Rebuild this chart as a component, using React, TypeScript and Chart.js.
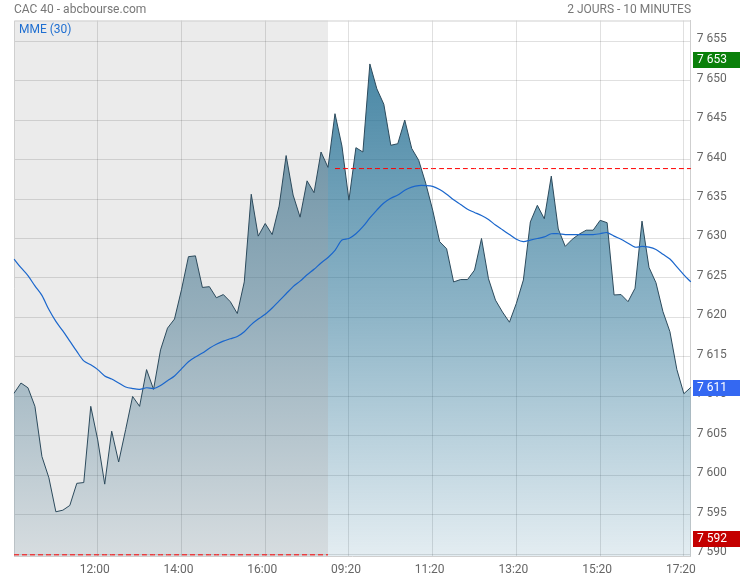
import React, { useEffect, useRef } from 'react';
import { Chart, registerables } from 'chart.js';

Chart.register(...registerables);

// ---- Data -------------------------------------------------------------
const makeTimes = (sh: number, sm: number, eh: number, em: number): string[] => {
  const out: string[] = [];
  for (let m = sh * 60 + sm; m <= eh * 60 + em; m += 10) {
    const h = Math.floor(m / 60);
    const mm = m % 60;
    out.push(`${String(h).padStart(2, '0')}:${String(mm).padStart(2, '0')}`);
  }
  return out;
};

const day1Times = makeTimes(10, 0, 17, 30); // 46 bars
const day2Times = makeTimes(9, 0, 17, 30); // 52 bars
const categories = [...day1Times.map((t) => 'J1 ' + t), ...day2Times.map((t) => 'J2 ' + t)];

const tickLabels = ['J1 12:00', 'J1 14:00', 'J1 16:00', 'J2 09:20', 'J2 11:20', 'J2 13:20', 'J2 15:20', 'J2 17:20'];
const yTicks = [7590, 7595, 7600, 7605, 7610, 7615, 7620, 7625, 7630, 7635, 7640, 7645, 7650, 7655];

const day1Prices = [
  7610.4, 7611.7, 7611.1, 7608.75, 7602.4, 7599.7, 7595.4, 7595.6, 7596.2, 7599.0,
  7599.1, 7608.75, 7604.5, 7598.9, 7605.6, 7601.7, 7605.8, 7610.0, 7608.75, 7613.4,
  7610.9, 7615.9, 7618.65, 7619.8, 7623.5, 7627.7, 7627.8, 7623.8, 7623.9, 7622.5,
  7622.9, 7622.0, 7620.5, 7624.5, 7635.6, 7630.3, 7631.9, 7630.5, 7634.1, 7640.5,
  7635.5, 7632.7, 7637.3, 7635.8, 7640.95, 7639.0,
];

const day2Prices = [
  7645.8, 7641.7, 7634.85, 7641.5, 7640.95, 7652.1, 7648.95, 7647.0, 7641.8, 7642.0,
  7645.0, 7641.4, 7639.9, 7637.0, 7633.6, 7629.6, 7628.7, 7624.5, 7624.8, 7624.8,
  7626.0, 7630.0, 7624.9, 7622.2, 7620.7, 7619.4, 7621.8, 7624.75, 7632.1, 7634.2,
  7632.5, 7637.9, 7631.2, 7629.0, 7629.9, 7630.55, 7631.05, 7631.05, 7632.3, 7632.0,
  7622.85, 7622.9, 7622.0, 7623.7, 7632.2, 7626.35, 7624.4, 7620.75, 7618.2, 7613.4,
  7610.35, 7611.15,
];

const mme30 = [
  7627.4, 7626.3, 7625.3, 7624.0, 7622.8, 7621.0, 7619.5, 7618.3, 7617.0, 7615.7,
  7614.5, 7614.0, 7613.4, 7612.6, 7612.2, 7611.7, 7611.2, 7611.0, 7610.9, 7611.1,
  7611.0, 7611.4, 7612.0, 7612.6, 7613.5, 7614.4, 7615.0, 7615.5, 7616.1, 7616.6,
  7617.0, 7617.3, 7617.6, 7618.2, 7619.1, 7619.8, 7620.4, 7621.2, 7622.1, 7623.0,
  7623.9, 7624.6, 7625.4, 7626.1, 7626.9, 7627.6, 7628.5, 7629.8, 7630.0, 7630.6,
  7631.5, 7632.6, 7633.6, 7634.5, 7635.1, 7635.5, 7636.1, 7636.5, 7636.7, 7636.7,
  7636.6, 7636.2, 7635.6, 7634.9, 7634.3, 7633.7, 7633.3, 7632.9, 7632.4, 7631.7,
  7631.1, 7630.5, 7629.9, 7629.6, 7629.8, 7630.0, 7630.2, 7630.6, 7630.6, 7630.5,
  7630.5, 7630.5, 7630.5, 7630.5, 7630.6, 7630.75, 7630.3, 7629.9, 7629.4, 7628.9,
  7629.0, 7628.9, 7628.6, 7628.0, 7627.4, 7626.4, 7625.4, 7624.5,
];

const day1RefLevel = 7589.95; // previous close, below the visible range (clamped)
const day2RefLevel = 7638.85; // previous close for day 2

const highValue = 7652.6;
const lastValue = 7611.1;
const lowValue = 7592.0;

const Y_MIN = 7589.8;
const Y_MAX = 7657.6;

// ---- Helpers ------------------------------------------------------------
const fmt = (v: number) =>
  String(Math.round(v)).replace(/\B(?=(\d{3})+(?!\d))/g, ' ');

const fillGradient = (rgb: string) => (context: any) => {
  const chart = context.chart;
  const area = chart.chartArea;
  if (!area) return `rgba(${rgb},0.4)`;
  const g = chart.ctx.createLinearGradient(0, area.top, 0, area.bottom);
  g.addColorStop(0, `rgba(${rgb},0.86)`);
  g.addColorStop(0.55, `rgba(${rgb},0.5)`);
  g.addColorStop(1, `rgba(${rgb},0.12)`);
  return g;
};

const FONT = 'Roboto, "Noto Sans", sans-serif';

const decorPlugin = {
  id: 'decor',
  beforeDraw(chart: any) {
    const { ctx, chartArea: a, scales } = chart;
    const xEnd = scales.x.getPixelForValue(day1Prices.length - 1);
    ctx.save();
    ctx.fillStyle = '#ebebeb';
    ctx.fillRect(a.left, a.top, xEnd - a.left, a.bottom - a.top);
    ctx.restore();
  },
  beforeDatasetsDraw(chart: any) {
    const { ctx, chartArea: a } = chart;
    ctx.save();
    ctx.strokeStyle = '#cfcfcf';
    ctx.lineWidth = 1;
    ctx.beginPath();
    ctx.moveTo(a.left + 0.5, a.bottom);
    ctx.lineTo(a.left + 0.5, a.top + 0.5);
    ctx.lineTo(a.right, a.top + 0.5);
    ctx.stroke();
    ctx.restore();
  },
  afterDraw(chart: any) {
    const { ctx, scales } = chart;
    const y = scales.y;
    ctx.save();
    ctx.font = `12px ${FONT}`;
    ctx.textBaseline = 'alphabetic';
    ctx.fillStyle = '#777777';
    ctx.textAlign = 'left';
    ctx.fillText('CAC 40 - abcbourse.com', 14, 12.7);
    ctx.textAlign = 'right';
    ctx.fillText('2 JOURS - 10 MINUTES', 691, 12.7);

    ctx.textAlign = 'left';
    ctx.fillStyle = '#1f6fd1';
    ctx.fillText('MME (30)', 19, 33);

    const boxes = [
      { v: highValue, c: '#0a800a' },
      { v: lastValue, c: '#3468f2' },
      { v: lowValue, c: '#c40000' },
    ];
    boxes.forEach((b) => {
      const py = y.getPixelForValue(b.v);
      ctx.fillStyle = b.c;
      ctx.fillRect(693, Math.round(py - 8), 47, 16);
      ctx.fillStyle = '#ffffff';
      ctx.textBaseline = 'middle';
      ctx.fillText(fmt(b.v), 697, py + 0.5);
    });
    ctx.restore();
  },
};

export default function App() {
  const ref = useRef<HTMLCanvasElement | null>(null);

  useEffect(() => {
    document.body.style.margin = '0';
    const canvas = ref.current;
    if (!canvas) return;

    const n1 = day1Prices.length;
    const total = categories.length;
    const priceDay1 = categories.map((_, i) => (i < n1 ? day1Prices[i] : null));
    const priceDay2 = categories.map((_, i) =>
      i === n1 - 1 ? day1Prices[n1 - 1] : i >= n1 ? day2Prices[i - n1] : null
    );
    const ref1 = categories.map((_, i) => (i < n1 ? day1RefLevel : null));
    const ref2 = categories.map((_, i) => (i >= n1 && i < total ? day2RefLevel : null));

    // plot width chosen so the day boundary falls on a whole pixel (no seam)
    const plotLeft = 14;
    const plotWidth = (314 * (total - 1)) / (n1 - 1);
    const yAxisWidth = 740 - plotLeft - plotWidth;

    const chart = new Chart(canvas, {
      type: 'line',
      data: {
        labels: categories,
        datasets: [
          {
            label: 'MME (30)',
            data: mme30,
            borderColor: '#1a66cc',
            borderWidth: 1.2,
            pointRadius: 0,
            fill: false,
            order: 0,
            tension: 0.3,
          },
          {
            label: 'ref1',
            data: ref1,
            borderColor: '#ff0000',
            borderWidth: 1,
            borderDash: [5, 3],
            pointRadius: 0,
            fill: false,
            order: 1,
          },
          {
            label: 'ref2',
            data: ref2,
            borderColor: '#ff0000',
            borderWidth: 1,
            borderDash: [5, 3],
            pointRadius: 0,
            fill: false,
            order: 1,
          },
          {
            label: 'CAC 40 J2',
            data: priceDay2,
            borderColor: '#2c4a5c',
            borderWidth: 1,
            pointRadius: 0,
            fill: 'start',
            backgroundColor: fillGradient('30,107,144'),
            order: 2,
            spanGaps: false,
          },
          {
            label: 'CAC 40 J1',
            data: priceDay1,
            borderColor: '#2c4a5c',
            borderWidth: 1,
            pointRadius: 0,
            fill: 'start',
            backgroundColor: fillGradient('65,115,141'),
            order: 3,
            spanGaps: false,
          },
        ],
      },
      options: {
        responsive: false,
        animation: false,
        devicePixelRatio: 1,
        layout: { padding: { left: plotLeft, top: 20.5, right: 0, bottom: 0 } },
        plugins: {
          legend: { display: false },
          tooltip: { enabled: false },
        },
        scales: {
          x: {
            type: 'category',
            offset: false,
            afterFit: (s: any) => {
              s.height = 24;
            },
            afterBuildTicks: (s: any) => {
              s.ticks = s.ticks.filter((t: any) => tickLabels.includes(categories[t.value]));
            },
            grid: { color: 'rgba(0,0,0,0.12)', drawTicks: false },
            border: { display: true, color: '#cfcfcf' },
            ticks: {
              autoSkip: false,
              maxRotation: 0,
              padding: 7,
              labelOffset: -3,
              color: '#666666',
              font: { family: FONT, size: 12 },
              callback: function (this: any, v: any) {
                return String(this.getLabelForValue(v)).slice(3);
              },
            },
          },
          y: {
            position: 'right',
            min: Y_MIN,
            max: Y_MAX,
            afterFit: (s: any) => {
              s.width = yAxisWidth;
            },
            afterBuildTicks: (s: any) => {
              s.ticks = yTicks.map((v) => ({ value: v }));
            },
            grid: { color: 'rgba(0,0,0,0.12)', drawTicks: false },
            border: { display: true, color: '#cfcfcf' },
            ticks: {
              padding: 6,
              labelOffset: -2,
              color: '#666666',
              font: { family: FONT, size: 12 },
              callback: (v: any) => fmt(Number(v)),
            },
          },
        },
      },
      plugins: [decorPlugin],
    });

    return () => chart.destroy();
  }, []);

  return (
    <div style={{ width: 740, height: 580 }}>
      <canvas ref={ref} width={740} height={580} style={{ display: 'block' }} />
    </div>
  );
}
